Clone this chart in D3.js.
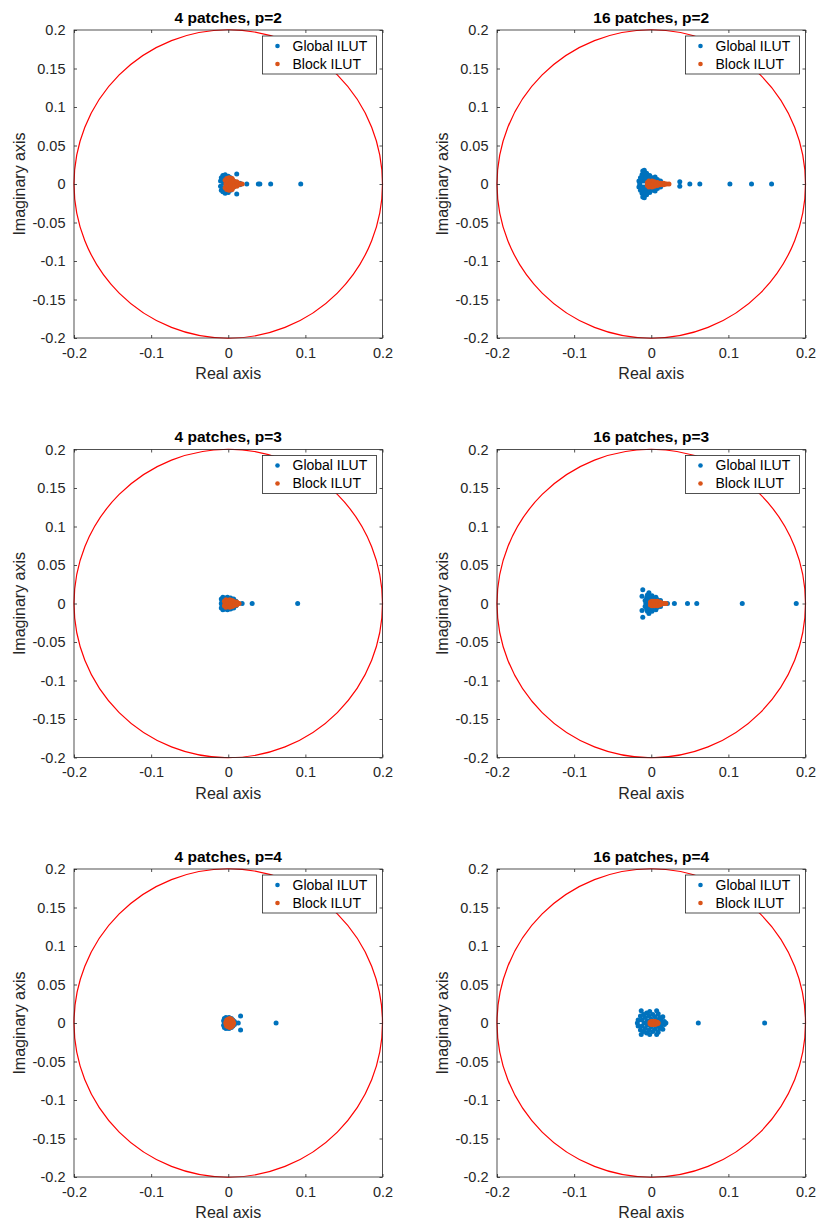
<!DOCTYPE html>
<html><head><meta charset="utf-8">
<script src="https://cdn.jsdelivr.net/npm/d3@7"></script>
<style>
body{margin:0;background:#fff;}
svg{display:block;font-family:"Liberation Sans",Arial,Helvetica,sans-serif;}
</style></head>
<body><svg id="chart" width="818" height="1224"></svg>
<script>
const titles = ["4 patches, p=2","16 patches, p=2","4 patches, p=3","16 patches, p=3","4 patches, p=4","16 patches, p=4"];
const seriesNames = ["Global ILUT","Block ILUT"];
const xTicks = [-0.2,-0.1,0,0.1,0.2];
const yTicks = [-0.2,-0.15,-0.1,-0.05,0,0.05,0.1,0.15,0.2];
const circleRadius = 0.2;

// eigenvalues [re, im]
const p1Global = [[-0.010,0.004],[-0.010,-0.003],[-0.009,0.008],[-0.009,-0.008],[-0.007,0.011],[-0.007,-0.010],[-0.006,0.001],[-0.005,0.006],[-0.005,-0.006],[-0.004,0.012],[-0.004,-0.012],[-0.003,0.003],[-0.003,-0.003],[-0.002,0.009],[-0.002,-0.009],[0,0.010],[0,-0.011],[0.001,0.005],[0.001,-0.005],[0.003,0.008],[0.003,-0.008],[0.005,0.006],[0.005,-0.006],[0.007,0.004],[0.007,-0.004],[0.009,0.002],[0.009,-0.002],[0.011,0.013],[0.011,-0.013],[0.012,0],[0.015,0.001],[0.015,-0.001],[0.024,0],[0.039,0],[0.041,0],[0.055,0],[0.094,0]];
const p1Block = [[-0.004,0.005],[-0.004,-0.005],[-0.003,0],[-0.002,0.007],[-0.002,-0.007],[0,0.003],[0,-0.003],[0.001,0.008],[0.001,-0.008],[0.002,0],[0.003,0.005],[0.003,-0.005],[0.004,0.002],[0.004,-0.002],[0.005,0.007],[0.005,-0.007],[0.006,0],[0.007,0.004],[0.007,-0.004],[0.009,0.002],[0.009,-0.002],[0.011,0.003],[0.011,-0.003],[0.013,0.001],[0.013,-0.001],[0.016,0],[0.018,0]];
const p2Global = [[-0.016,0.004],[-0.016,-0.004],[-0.015,0],[-0.014,0.008],[-0.014,-0.008],[-0.012,0.012],[-0.012,-0.012],[-0.011,0.017],[-0.011,-0.017],[-0.009,0.018],[-0.009,-0.018],[-0.011,0.004],[-0.011,-0.004],[-0.010,0.008],[-0.010,-0.008],[-0.008,0.013],[-0.008,-0.013],[-0.008,0.004],[-0.008,-0.004],[-0.007,0.010],[-0.007,-0.010],[-0.006,0.014],[-0.006,-0.014],[-0.005,0],[-0.004,0.007],[-0.004,-0.007],[-0.002,0.011],[-0.002,-0.011],[-0.001,0.003],[-0.001,-0.003],[0.001,0.008],[0.001,-0.008],[0.003,0.005],[0.003,-0.005],[0.005,0.009],[0.005,-0.009],[0.006,0.002],[0.006,-0.002],[0.008,0.006],[0.008,-0.006],[0.010,0.003],[0.010,-0.003],[0.012,0.004],[0.012,-0.004],[0.014,0.001],[0.014,-0.001],[0.016,0],[0.037,0.003],[0.037,-0.003],[0.050,0],[0.063,0],[0.102,0],[0.130,0],[0.156,0]];
const p2Block = [[-0.005,0.002],[-0.005,-0.002],[-0.004,0],[-0.003,0.004],[-0.003,-0.004],[-0.001,0.002],[-0.001,-0.002],[0.001,0.004],[0.001,-0.004],[0.002,0],[0.004,0.003],[0.004,-0.003],[0.006,0.001],[0.006,-0.001],[0.008,0.002],[0.008,-0.002],[0.010,0],[0.012,0.001],[0.012,-0.001],[0.014,0],[0.016,0.001],[0.016,-0.001],[0.018,0],[0.020,0],[0.023,0]];
const p3Global = [[-0.009,0.006],[-0.009,0],[-0.009,-0.006],[-0.008,0.003],[-0.008,-0.003],[-0.007,0.008],[-0.007,-0.008],[-0.006,0.005],[-0.006,-0.005],[-0.005,0],[-0.004,0.007],[-0.004,-0.007],[-0.003,0.003],[-0.003,-0.003],[-0.001,0.008],[-0.001,-0.008],[0,0.005],[0,-0.005],[0.002,0.002],[0.002,-0.002],[0.003,0.007],[0.003,-0.007],[0.005,0.004],[0.005,-0.004],[0.007,0.006],[0.007,-0.006],[0.008,0.001],[0.008,-0.001],[0.010,0.003],[0.010,-0.003],[0.018,0],[0.031,0],[0.090,0]];
const p3Block = [[-0.005,0.003],[-0.005,-0.003],[-0.004,0],[-0.003,0.005],[-0.003,-0.005],[-0.002,0.002],[-0.002,-0.002],[0,0.004],[0,-0.004],[0.001,0],[0.002,0.005],[0.002,-0.005],[0.003,0.002],[0.003,-0.002],[0.005,0.004],[0.005,-0.004],[0.006,0],[0.007,0.003],[0.007,-0.003],[0.009,0.001],[0.009,-0.001],[0.011,0.002],[0.011,-0.002],[0.013,0],[0.014,0]];
const p4Global = [[-0.011,0.018],[-0.012,0.0095],[-0.012,-0.009],[-0.011,-0.018],[-0.003,0.014],[-0.003,-0.013],[-0.008,0.004],[-0.008,-0.004],[-0.007,0],[-0.006,0.007],[-0.006,-0.007],[-0.005,0.011],[-0.005,-0.010],[-0.004,0.002],[-0.004,-0.002],[-0.002,0.008],[-0.002,-0.008],[-0.001,0.004],[-0.001,-0.004],[0.001,0.010],[0.001,-0.010],[0.002,0],[0.003,0.006],[0.003,-0.006],[0.005,0.003],[0.005,-0.003],[0.006,0.008],[0.006,-0.008],[0.008,0.005],[0.008,-0.005],[0.010,0.002],[0.010,-0.002],[0.012,0.004],[0.012,-0.004],[0.014,0],[0.021,0],[0.030,0],[0.047,0],[0.059,0],[0.118,0],[0.188,0]];
const p4Block = [[-0.001,0.002],[-0.001,-0.002],[0,0],[0.001,0.003],[0.001,-0.003],[0.002,0.001],[0.002,-0.001],[0.004,0.003],[0.004,-0.003],[0.005,0],[0.006,0.002],[0.006,-0.002],[0.008,0.003],[0.008,-0.003],[0.009,0],[0.011,0.002],[0.011,-0.002],[0.013,0.001],[0.013,-0.001],[0.015,0],[0.017,0],[0.019,0]];
const p5Global = [[-0.006,0.003],[-0.006,-0.003],[-0.005,0.006],[-0.005,-0.006],[-0.005,0],[-0.003,0.007],[-0.003,-0.007],[-0.003,0.003],[-0.003,-0.003],[-0.001,0.005],[-0.001,-0.005],[0,0],[0.001,0.007],[0.001,-0.007],[0.002,0.003],[0.002,-0.003],[0.004,0.006],[0.004,-0.006],[0.005,0.001],[0.005,-0.001],[0.006,0.004],[0.006,-0.004],[0.008,0.002],[0.008,-0.002],[0.009,0],[0.013,0],[0.016,0.009],[0.016,-0.009],[0.062,0]];
const p5Block = [[-0.003,0.001],[-0.003,-0.001],[-0.002,0.004],[-0.002,-0.004],[-0.001,0],[0,0.005],[0,-0.005],[0,0.002],[0,-0.002],[0.002,0.006],[0.002,-0.006],[0.002,0],[0.003,0.003],[0.003,-0.003],[0.004,0.005],[0.004,-0.005],[0.005,0.001],[0.005,-0.001],[0.006,0.003],[0.006,-0.003],[0.007,0]];
const p6Global = [[-0.018,0],[-0.017,0.004],[-0.017,-0.004],[-0.013,0.016],[-0.013,-0.015],[-0.014,0.009],[-0.014,-0.009],[-0.012,0.004],[-0.012,-0.004],[-0.010,0.011],[-0.010,-0.011],[-0.009,0],[-0.008,0.007],[-0.008,-0.007],[-0.006,0.013],[-0.006,-0.013],[-0.005,0.003],[-0.005,-0.003],[-0.003,0.009],[-0.003,-0.009],[-0.002,0.015],[-0.002,-0.015],[-0.001,0],[0,0.005],[0,-0.005],[0.002,0.011],[0.002,-0.011],[0.003,0.002],[0.003,-0.002],[0.005,0.008],[0.005,-0.008],[0.007,0.016],[0.007,-0.015],[0.007,0.004],[0.007,-0.004],[0.009,0.012],[0.009,-0.012],[0.010,0],[0.011,0.007],[0.011,-0.007],[0.013,0.003],[0.013,-0.003],[0.015,0.008],[0.015,-0.008],[0.017,0.002],[0.017,-0.002],[0.019,0],[0.061,0],[0.147,0]];
const p6Block = [[-0.0015,0.001],[-0.0015,-0.001],[0,0.002],[0,-0.002],[0.001,0],[0.002,0.002],[0.002,-0.002],[0.003,0.001],[0.003,-0.001],[0.004,0],[0.005,0.002],[0.005,-0.002],[0.006,0.001],[0.006,-0.001],[0.007,0],[0.008,0.001],[0.008,-0.001],[0.009,0]];

const globalSets = [p1Global,p2Global,p3Global,p4Global,p5Global,p6Global];
const blockSets = [p1Block,p2Block,p3Block,p4Block,p5Block,p6Block];

const colors = ["#0072BD","#D95319"];
const colX = [74, 497], rowY = [30, 449.5, 869];
const W = 308.5, H = 308;
const svg = d3.select("#chart");
const axisColor = "#262626";

titles.forEach((t, i) => {
  const ox = colX[i % 2], oy = rowY[Math.floor(i / 2)];
  const g = svg.append("g").attr("transform", `translate(${ox},${oy})`);
  const x = d3.scaleLinear().domain([-0.2, 0.2]).range([0, W]);
  const y = d3.scaleLinear().domain([-0.2, 0.2]).range([H, 0]);

  // circle
  g.append("circle").attr("cx", x(0)).attr("cy", y(0))
    .attr("r", x(circleRadius) - x(0))
    .attr("fill", "none").attr("stroke", "#FF0000").attr("stroke-width", 1.2);

  // points
  [globalSets[i], blockSets[i]].forEach((pts, s) => {
    g.append("g").selectAll("circle").data(pts).join("circle")
      .attr("cx", d => x(d[0])).attr("cy", d => y(d[1]))
      .attr("r", 2.5).attr("fill", colors[s]);
  });

  const fmt = d => d === 0 ? "0" : String(d);
  const ax = g.append("g").attr("transform", `translate(0,${H})`)
    .call(d3.axisBottom(x).tickValues(xTicks).tickFormat(fmt).tickSize(-3).tickPadding(10));
  const axT = g.append("g")
    .call(d3.axisTop(x).tickValues(xTicks).tickFormat("").tickSize(-3));
  const ay = g.append("g")
    .call(d3.axisLeft(y).tickValues(yTicks).tickFormat(fmt).tickSize(-3).tickPadding(8.5));
  const ayR = g.append("g").attr("transform", `translate(${W},0)`)
    .call(d3.axisRight(y).tickValues(yTicks).tickFormat("").tickSize(-3));
  [ax, axT, ay, ayR].forEach(a => {
    a.select(".domain").remove();
    a.selectAll("line").attr("stroke", axisColor).attr("stroke-width", 0.8);
    a.selectAll("text").attr("fill", axisColor).style("font-size", "14.5px")
      .style("font-family", '"Liberation Sans",Arial,sans-serif');
  });
  ax.selectAll("text").attr("dy", "0").attr("y", 19.5);
  g.append("rect").attr("width", W).attr("height", H)
    .attr("fill", "none").attr("stroke", axisColor).attr("stroke-width", 0.8);

  // title
  g.append("text").attr("x", W / 2).attr("y", -7.3).attr("text-anchor", "middle")
    .style("font-size", "15.5px").style("font-weight", "bold").attr("fill", "#000").text(t);
  // axis labels
  g.append("text").attr("x", W / 2).attr("y", H + 41).attr("text-anchor", "middle")
    .style("font-size", "16px").attr("fill", axisColor).text("Real axis");
  g.append("text").attr("transform", `translate(-49,${H / 2}) rotate(-90)`)
    .attr("text-anchor", "middle").style("font-size", "16px").attr("fill", axisColor).text("Imaginary axis");

  // legend
  const lg = g.append("g").attr("transform", `translate(${W - 120},6)`);
  lg.append("rect").attr("width", 114).attr("height", 38)
    .attr("fill", "#fff").attr("stroke", axisColor).attr("stroke-width", 0.8);
  seriesNames.forEach((n, s) => {
    lg.append("circle").attr("cx", 15).attr("cy", 10 + s * 18).attr("r", 2.3).attr("fill", colors[s]);
    lg.append("text").attr("x", 30).attr("y", 10 + s * 18).attr("dy", "0.35em")
      .style("font-size", "14px").attr("fill", "#000").text(n);
  });
});
</script></body></html>
